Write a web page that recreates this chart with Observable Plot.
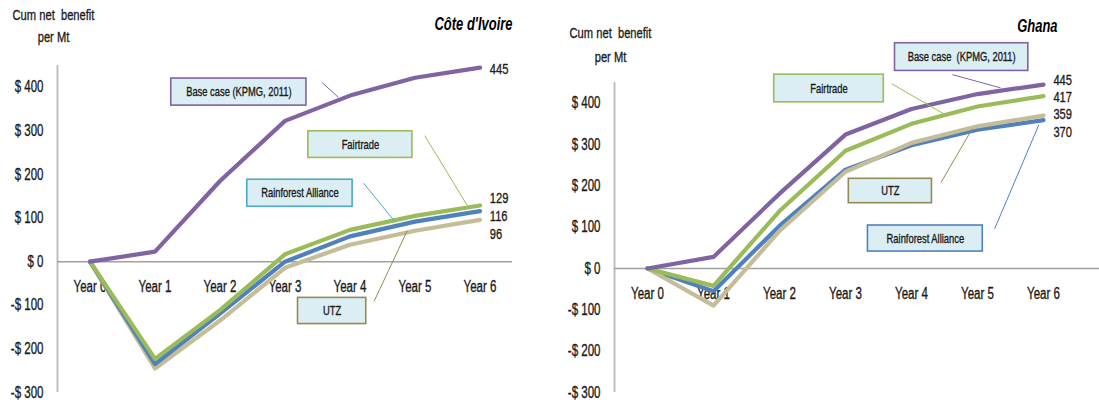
<!DOCTYPE html>
<html>
<head>
<meta charset="utf-8">
<script src="https://cdn.jsdelivr.net/npm/d3@7"></script>
<script src="https://cdn.jsdelivr.net/npm/@observablehq/plot@0.6"></script>
<style>
  html, body { margin: 0; padding: 0; background: #fff; }
  #wrap { display: flex; width: 1099px; height: 405px; }
  svg text { white-space: pre; }
</style>
</head>
<body>
<div id="wrap"></div>
<script>
// ---------- data ----------
const years = ["Year 0", "Year 1", "Year 2", "Year 3", "Year 4", "Year 5", "Year 6"];
const yTicks = [-300, -200, -100, 0, 100, 200, 300, 400];

const civBase = [0, 23, 185, 323, 381, 422, 445];
const civFairtrade = [0, -223, -111, 17, 73, 105, 129];
const civRainforest = [0, -235, -119, 0, 58, 92, 116];
const civUTZ = [0, -245, -135, -14, 39, 71, 96];
const civEndLabels = ["445", "129", "116", "96"];

const ghaBase = [0, 28, 181, 324, 386, 422, 445];
const ghaFairtrade = [0, -42, 139, 285, 350, 392, 417];
const ghaRainforest = [0, -55, 103, 239, 298, 336, 359];
const ghaUTZ = [0, -90, 91, 234, 304, 344, 370];
const ghaEndLabels = ["445", "417", "359", "370"];

// ---------- styling / annotation layout (data units) ----------
const FONT = "'Liberation Sans', Arial, sans-serif";
const SQUEEZE = 0.72; // horizontal condensing of all text (reference uses a narrow face)
const C = { base: "#8064A2", fair: "#9BBB59", ra: "#4F81BD", utz: "#C4BD97",
            raAqua: "#4BACC6", utzDark: "#948A54", box: "#DBEEF4" };

const civCallouts = [
  { text: "Base case (KPMG, 2011)", x1: 1.25, x2: 3.33, y1: 358, y2: 420, stroke: C.base, lx1: 3.57, ly1: 411, lx2: 3.82, ly2: 377 },
  { text: "Fairtrade", x1: 3.36, x2: 4.96, y1: 238, y2: 299, stroke: C.fair, lx1: 5.15, ly1: 289, lx2: 5.80, ly2: 130 },
  { text: "Rainforest Alliance", x1: 2.42, x2: 4.04, y1: 126, y2: 188, stroke: C.raAqua, lx1: 4.21, ly1: 180, lx2: 4.70, ly2: 90 },
  { text: "UTZ", x1: 3.20, x2: 4.25, y1: -143, y2: -83, stroke: C.utzDark, lx1: 4.37, ly1: -91, lx2: 4.88, ly2: 71 }
];
const civLabelY = [443, 146, 105, 64];

const ghaCallouts = [
  { text: "Base case  (KPMG, 2011)", x1: 3.75, x2: 5.77, y1: 478, y2: 545, stroke: C.base, lx1: 4.62, ly1: 469, lx2: 5.35, ly2: 437 },
  { text: "Fairtrade", x1: 1.92, x2: 3.58, y1: 402, y2: 469, stroke: C.fair, lx1: 3.70, ly1: 447, lx2: 4.49, ly2: 374 },
  { text: "UTZ", x1: 3.05, x2: 4.31, y1: 158, y2: 217, stroke: C.utzDark, lx1: 4.45, ly1: 209, lx2: 4.92, ly2: 338 },
  { text: "Rainforest Alliance", x1: 3.34, x2: 5.08, y1: 41, y2: 104, stroke: C.ra, lx1: 5.26, ly1: 96, lx2: 5.93, ly2: 348 }
];
const ghaLabelY = [457, 414, 373, 330];

const fmt = d => d < 0 ? "-$ " + (-d) : "$ " + d;
const series = vals => vals.map((v, i) => ({ i, v }));
const INK = "#1a1a1a";
const BOLDEN = { stroke: INK, strokeWidth: 0.35 };

function panel(opts) {
  const lines = opts.order.map(([vals, color]) =>
    Plot.line(series(vals), { x: "i", y: "v", stroke: color, strokeWidth: 4.2, strokeLinejoin: "round" }));
  return Plot.plot({
    width: opts.width, height: 405,
    marginLeft: opts.ml, marginRight: opts.mr, marginTop: opts.mt, marginBottom: 13,
    x: { type: "linear", domain: [-0.5, 6.5], axis: null },
    y: { domain: [-300, 450], axis: null },
    color: { type: "identity" },
    style: { fontFamily: FONT, background: "#fff", color: INK, overflow: "visible" },
    marks: [
      Plot.ruleX([-0.5], { y1: -300, y2: 450, stroke: "#c0c0c0", strokeWidth: 2 }),
      Plot.ruleY([0], { x1: -0.5, x2: opts.zeroEnd, stroke: "#a0a0a0", strokeWidth: 1.6 }),
      Plot.text(yTicks, { x: -0.5, y: d => d, text: fmt, textAnchor: "end", dx: -14, fontSize: 16, fill: INK, ...BOLDEN }),
      Plot.text(years, { x: (d, i) => i, y: 0, dy: 25, text: d => d, fontSize: 16, fill: INK, ...BOLDEN }),
      ...lines,
      Plot.link(opts.callouts, { x1: "lx1", y1: "ly1", x2: "lx2", y2: "ly2", stroke: "stroke", strokeWidth: 1 }),
      Plot.rect(opts.callouts, { x1: "x1", x2: "x2", y1: "y1", y2: "y2", fill: C.box, stroke: "stroke", strokeWidth: 1.6 }),
      Plot.text(opts.callouts, { x: d => (d.x1 + d.x2) / 2, y: d => (d.y1 + d.y2) / 2, text: "text", fontSize: 13, fill: INK, ...BOLDEN }),
      Plot.text(opts.endLabels, { x: 6.15, y: (d, i) => opts.labelY[i], text: d => d, textAnchor: "start", fontSize: 15.5, fill: INK, ...BOLDEN }),
      Plot.text(["Cum net  benefit"], { frameAnchor: "top-left", lineAnchor: "middle", textAnchor: "middle", dx: opts.labDx, dy: opts.lab1Dy, text: d => d, fontSize: 15.5, fill: INK, ...BOLDEN }),
      Plot.text(["per Mt"], { frameAnchor: "top-left", lineAnchor: "middle", textAnchor: "middle", dx: opts.labDx, dy: opts.lab2Dy, text: d => d, fontSize: 15.5, fill: INK, ...BOLDEN }),
      Plot.text([opts.title], { frameAnchor: "top-right", lineAnchor: "middle", dx: opts.titleDx, dy: opts.titleDy, text: d => d, textAnchor: "end", fontSize: 18, fontWeight: "bold", fontStyle: "italic", fill: "#000" })
    ]
  });
}

const left = panel({
  width: 550, ml: 57, mr: 38, mt: 65, zeroEnd: 6.5,
  order: [[civUTZ, C.utz], [civRainforest, C.ra], [civFairtrade, C.fair], [civBase, C.base]],
  callouts: civCallouts, endLabels: civEndLabels, labelY: civLabelY,
  labDx: -4, lab1Dy: -50, lab2Dy: -28, title: "Côte d'Ivoire", titleDx: 0, titleDy: -41
});
const right = panel({
  width: 549, ml: 64, mr: 23, mt: 82, zeroEnd: 6.85,
  order: [[ghaRainforest, C.ra], [ghaUTZ, C.utz], [ghaFairtrade, C.fair], [ghaBase, C.base]],
  callouts: ghaCallouts, endLabels: ghaEndLabels, labelY: ghaLabelY,
  labDx: -4, lab1Dy: -49, lab2Dy: -25, title: "Ghana", titleDx: -19, titleDy: -56
});
document.getElementById("wrap").append(left, right);

// condense every text horizontally to mimic the narrow typeface of the original
for (const t of document.querySelectorAll("#wrap svg text")) {
  const L = t.getComputedTextLength();
  if (L > 0) {
    t.setAttribute("textLength", (L * SQUEEZE).toFixed(1));
    t.setAttribute("lengthAdjust", "spacingAndGlyphs");
  }
}
</script>
</body>
</html>
